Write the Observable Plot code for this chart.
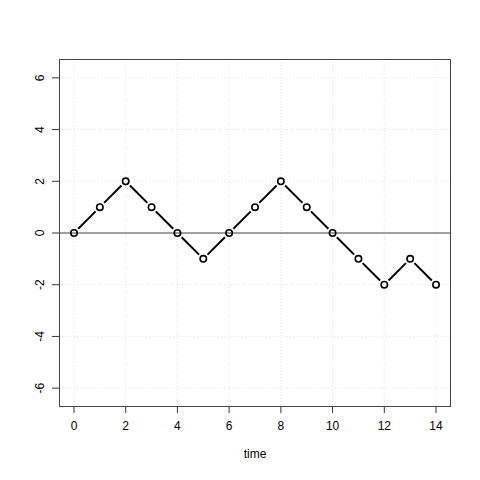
<!DOCTYPE html>
<html><head><meta charset="utf-8">
<script src="https://cdn.jsdelivr.net/npm/d3@7"></script>
<script src="https://cdn.jsdelivr.net/npm/@observablehq/plot@0.6"></script>
<style>body{margin:0;background:#fff}</style>
</head><body><div id="chart"></div>
<script>
const time = [0,1,2,3,4,5,6,7,8,9,10,11,12,13,14];
const value = [0,1,2,1,0,-1,0,1,2,1,0,-1,-2,-1,-2];
const xTicks = [0,2,4,6,8,10,12,14];
const yTicks = [-6,-4,-2,0,2,4,6];
const xLabel = "time";

const pts = time.map((t,i)=>({t, v:value[i]}));
const segs = pts.slice(1).map((p,i)=>({t1: pts[i].t, v1: pts[i].v, t2: p.t, v2: p.v}));
const gap = 6;
const fmt = d => String(d);

const chart = Plot.plot({
  width: 480, height: 480,
  marginLeft: 59, marginRight: 30, marginTop: 59, marginBottom: 74,
  style: {fontFamily: "Liberation Sans, Arial, sans-serif", fontSize: "12px", color: "#000", background: "#fff"},
  x: {domain: [-0.56, 14.56]},
  y: {domain: [-6.71, 6.71]},
  marks: [
    Plot.gridX(xTicks, {stroke: "#e2e2e2", strokeOpacity: 1, strokeDasharray: "1,2"}),
    Plot.gridY(yTicks, {stroke: "#e2e2e2", strokeOpacity: 1, strokeDasharray: "1,2"}),
    Plot.ruleY([0], {stroke: "#444", strokeWidth: 1}),
    Plot.link(segs, {
      x1: "t1", y1: "v1", x2: "t2", y2: "v2", stroke: "#000", strokeWidth: 2,
      render(index, scales, values, dimensions, context, next) {
        const {x1, y1, x2, y2} = values;
        const nx1 = [], ny1 = [], nx2 = [], ny2 = [];
        for (const i of index) {
          const dx = x2[i]-x1[i], dy = y2[i]-y1[i], L = Math.hypot(dx, dy);
          const ux = dx/L, uy = dy/L;
          nx1[i] = x1[i]+ux*gap; ny1[i] = y1[i]+uy*gap;
          nx2[i] = x2[i]-ux*gap; ny2[i] = y2[i]-uy*gap;
        }
        return next(index, scales, {...values, x1: nx1, y1: ny1, x2: nx2, y2: ny2}, dimensions, context);
      }
    }),
    Plot.dot(pts, {x: "t", y: "v", r: 3.2, stroke: "#000", strokeWidth: 1.6, fill: "none"}),
    Plot.axisX(xTicks, {tickSize: 7, tickPadding: 8, label: null, stroke: "#333", tickFormat: fmt}),
    Plot.axisY(yTicks, {tickSize: 7, tickPadding: 9, tickRotate: -90, label: null, stroke: "#333", tickFormat: fmt}),
    Plot.ruleY([0], {x1: xTicks[0], x2: xTicks[xTicks.length-1], y: () => -6.71, stroke: "#000"}),
    Plot.frame({stroke: "#444", strokeWidth: 1}),
    Plot.text([xLabel], {frameAnchor: "bottom", dy: 51, fontSize: 12, fill: "#000"})
  ]
});
document.getElementById("chart").append(chart);
</script></body></html>
